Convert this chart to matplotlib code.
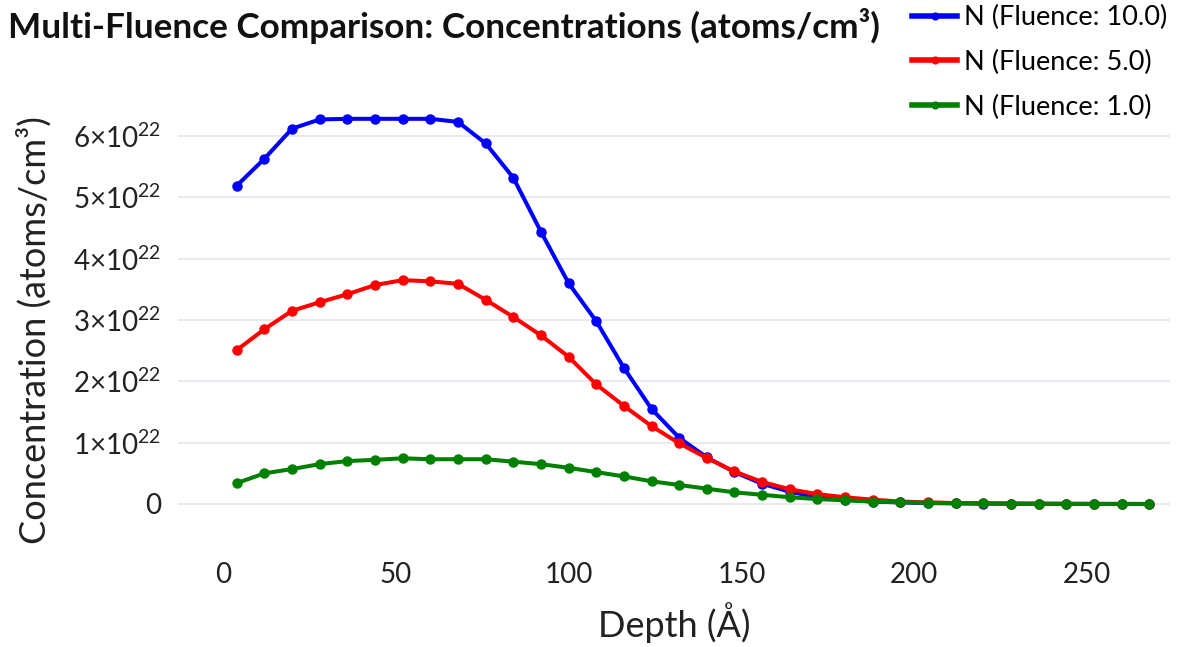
import numpy as np
import matplotlib
matplotlib.use("Agg")
import matplotlib.pyplot as plt
from matplotlib.ticker import FuncFormatter

plt.rcParams['font.family'] = ['Lato', 'DejaVu Sans']
plt.rcParams['mathtext.fontset'] = 'custom'
plt.rcParams['mathtext.rm'] = 'Lato'
plt.rcParams['mathtext.it'] = 'Lato:italic'
plt.rcParams['mathtext.bf'] = 'Lato:bold'

# depth in Angstrom
depth = [4, 12, 20, 28, 36, 44, 52, 60, 68, 76, 84, 92, 100, 108, 116, 124, 132,
         140, 148, 156, 164, 172, 180, 188, 196, 204, 212, 220, 228, 236, 244,
         252, 260, 268]

# concentrations in units of 1e22 atoms/cm3
fluence_10 = [5.19, 5.63, 6.12, 6.27, 6.28, 6.28, 6.28, 6.28, 6.23, 5.88, 5.32,
              4.44, 3.60, 2.98, 2.22, 1.55, 1.08, 0.76, 0.52, 0.33, 0.20, 0.11,
              0.07, 0.04, 0.025, 0.015, 0.01, 0.006, 0.004, 0.002, 0.001, 0.001,
              0.0, 0.0]
fluence_5 = [2.51, 2.85, 3.15, 3.29, 3.42, 3.57, 3.65, 3.63, 3.59, 3.33, 3.05,
             2.75, 2.40, 1.95, 1.60, 1.27, 0.99, 0.75, 0.53, 0.36, 0.24, 0.16,
             0.11, 0.07, 0.04, 0.025, 0.015, 0.01, 0.006, 0.004, 0.002, 0.001,
             0.001, 0.0]
fluence_1 = [0.34, 0.50, 0.57, 0.65, 0.70, 0.72, 0.745, 0.73, 0.73, 0.73, 0.69,
             0.65, 0.59, 0.52, 0.45, 0.37, 0.31, 0.25, 0.19, 0.15, 0.11, 0.08,
             0.06, 0.04, 0.03, 0.02, 0.015, 0.01, 0.007, 0.005, 0.003, 0.002,
             0.001, 0.001]

series = [
    ('N (Fluence: 10.0)', fluence_10, 'blue'),
    ('N (Fluence: 5.0)', fluence_5, 'red'),
    ('N (Fluence: 1.0)', fluence_1, 'green'),
]

W, H = 1177, 647
fig = plt.figure(figsize=(W / 100, H / 100), dpi=100)
# axes placed in pixel coords (left, top, right, bottom)
l, t, r, b = 178, 85, 1170, 545
ax = fig.add_axes([l / W, 1 - b / H, (r - l) / W, (b - t) / H])

for name, vals, col in series:
    ax.plot(depth, np.array(vals) * 1e22, color=col, lw=2.9, marker='o',
            ms=6.5, label=name, solid_joinstyle='round')

# 0 at y=504px, 6e22 at y=136px
ppu = (504 - 136) / 6.0
ax.set_ylim(-(b - 504) / ppu * 1e22, (504 - t) / ppu * 1e22)
ax.set_xlim(-13, 274)

ax.set_yticks(np.arange(0, 7) * 1e22)
ax.set_xticks([0, 50, 100, 150, 200, 250])


def fmt(v, pos):
    k = int(round(v / 1e22))
    if k == 0:
        return '0'
    return '%d\u00d710$^{\\mathdefault{22}}$' % k


ax.yaxis.set_major_formatter(FuncFormatter(fmt))
ax.grid(axis='y', color='#e5e9f0', lw=1.3)
ax.set_axisbelow(True)
for s in ax.spines.values():
    s.set_visible(False)
ax.tick_params(length=0, labelsize=20, colors='#222222', pad=12)
ax.tick_params(axis='x', pad=12)

ax.set_xlabel('Depth (\u00c5)', fontsize=26, color='#222222', labelpad=10)
ax.set_ylabel('Concentration (atoms/cm\u00b3)', fontsize=26, color='#222222')
ax.yaxis.set_label_coords((52 - l) / (r - l), (b - 330) / (b - t))

fig.text(8 / W, 1 - 26 / H, 'Multi-Fluence Comparison: Concentrations (atoms/cm\u00b3)',
         fontsize=25.3, fontweight='bold', color='#111111', va='center', ha='left')

leg = fig.legend(loc='upper left', bbox_to_anchor=(896 / W, 1 + 11 / H), frameon=False,
                 fontsize=19.5, handlelength=1.65, labelspacing=0.72, handletextpad=0.25,
                 borderpad=0.1, markerscale=0.75)
for h in leg.legend_handles:
    h.set_linewidth(4)

fig.savefig('out.png', dpi=100, facecolor='white')
